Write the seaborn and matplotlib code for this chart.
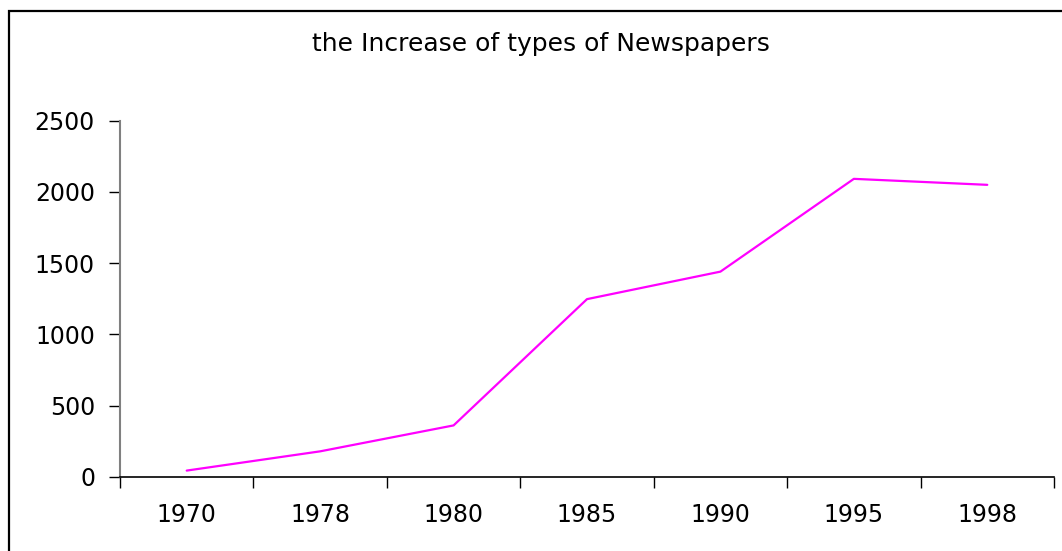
import matplotlib
matplotlib.use("Agg")
import matplotlib.pyplot as plt
import seaborn as sns
import pandas as pd
from matplotlib.patches import Rectangle

years = ["1970", "1978", "1980", "1985", "1990", "1995", "1998"]
newspapers = [45, 180, 362, 1248, 1441, 2092, 2050]
y_ticks = [0, 500, 1000, 1500, 2000, 2500]
title = "the Increase of types of Newspapers"

sns.set_theme(style="white")
plt.rcParams['font.family'] = ['DejaVu Sans']
plt.rcParams['text.color'] = 'black'
plt.rcParams['xtick.color'] = 'black'
plt.rcParams['ytick.color'] = 'black'

df = pd.DataFrame({"year": years, "count": newspapers})

fig = plt.figure(figsize=(10.62, 5.51), dpi=100)
ax = fig.add_axes([120/1062, 1 - 477/551, (1054 - 120)/1062, (477 - 120.7)/551])

sns.lineplot(data=df, x="year", y="count", sort=False, color="#FF00FF",
             linewidth=1.6, ax=ax)

n = len(years)
ax.set_xlim(-0.5, n - 0.5)
ax.set_ylim(0, 2500)
ax.set_yticks(y_ticks)
ax.set_yticklabels([str(v) for v in y_ticks], fontsize=17)
ax.set_xticks([i - 0.5 for i in range(n + 1)])
ax.set_xticklabels([])
ax.set_xticks(list(range(n)), minor=True)
ax.set_xticklabels(years, minor=True, fontsize=17)
ax.tick_params(axis="x", which="major", direction="out", length=8, width=1,
               color="black", bottom=True)
ax.tick_params(axis="x", which="minor", length=0, pad=19)
ax.tick_params(axis="y", direction="out", length=8, width=1, color="black",
               left=True, pad=10)
ax.set_xlabel("")
ax.set_ylabel("")

for s in ["top", "right"]:
    ax.spines[s].set_visible(False)
ax.spines["left"].set_color("#808080")
ax.spines["left"].set_linewidth(1.5)
ax.spines["bottom"].set_color("black")
ax.spines["bottom"].set_linewidth(1.2)

fig.text(541/1062, 1 - 44/551, title, ha="center", va="center", fontsize=18)

frame = Rectangle((9/1062, -0.2), 1.2, 1.2 - 11/551, transform=fig.transFigure,
                  fill=False, edgecolor="black", linewidth=1.6, clip_on=False)
fig.patches.append(frame)

fig.savefig("out.png", dpi=100)
